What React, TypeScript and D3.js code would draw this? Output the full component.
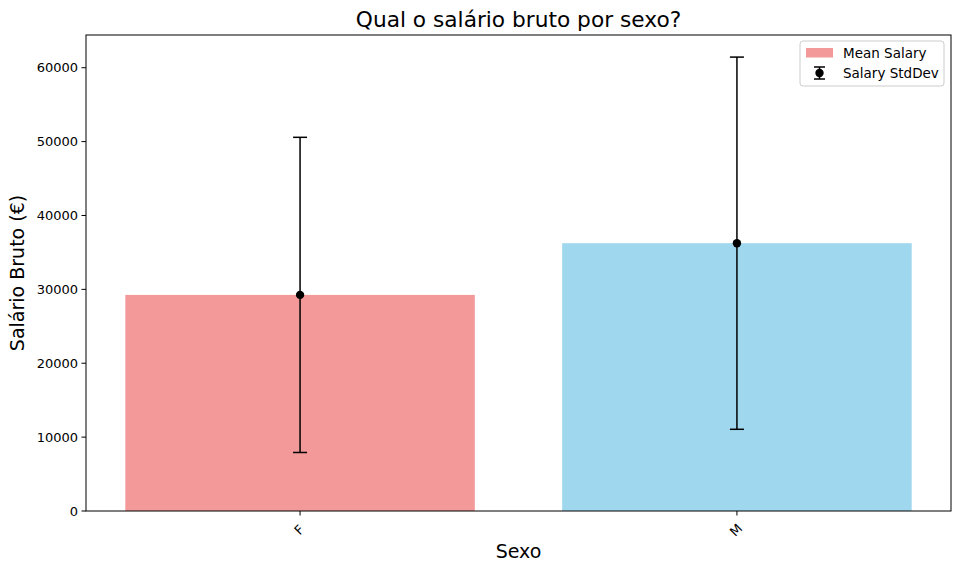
import * as d3 from "d3";

const categories = ["F", "M"];
const meanSalary = [29250, 36250];
const stdSalary = [21330, 25190];
const barColors = ["#F39999", "#9FD7EE"];
const yTicks = [0, 10000, 20000, 30000, 40000, 50000, 60000];

const width = 960;
const height = 572;
const marginTop = 35;
const marginRight = 9;
const marginBottom = 61;
const marginLeft = 86;
const font = "DejaVu Sans, sans-serif";

export default function App() {
  const x = d3
    .scaleLinear()
    .domain([-0.49, categories.length - 1 + 0.49])
    .range([marginLeft, width - marginRight]);

  const y = d3
    .scaleLinear()
    .domain([0, 64430])
    .range([height - marginBottom, marginTop]);

  const barW = x(0.8) - x(0);
  const cap = 7;

  return (
    <div style={{ position: "absolute", left: 0, top: 0 }}>
      <svg width={width} height={height} style={{ display: "block", background: "#fff" }} fontFamily={font}>
        {categories.map((c, i) => (
          <rect
            key={c}
            x={x(i) - barW / 2}
            y={y(meanSalary[i])}
            width={barW}
            height={y(0) - y(meanSalary[i])}
            fill={barColors[i]}
          />
        ))}
        <g stroke="#000" strokeWidth={1.5}>
          {categories.map((c, i) => {
            const cx = x(i);
            const top = y(meanSalary[i] + stdSalary[i]);
            const bot = y(meanSalary[i] - stdSalary[i]);
            return (
              <g key={c}>
                <line x1={cx} x2={cx} y1={top} y2={bot} />
                <line x1={cx - cap} x2={cx + cap} y1={top} y2={top} />
                <line x1={cx - cap} x2={cx + cap} y1={bot} y2={bot} />
                <circle cx={cx} cy={y(meanSalary[i])} r={4.2} fill="#000" stroke="none" />
              </g>
            );
          })}
        </g>
        <rect
          x={marginLeft}
          y={marginTop}
          width={width - marginLeft - marginRight}
          height={height - marginTop - marginBottom}
          fill="none"
          stroke="#000"
          strokeWidth={1}
        />
        {yTicks.map((t) => (
          <g key={t} transform={`translate(${marginLeft},${y(t)})`}>
            <line x1={-4.5} x2={0} stroke="#000" />
            <text x={-8} dy="0.35em" textAnchor="end" fontSize={13}>
              {t}
            </text>
          </g>
        ))}
        {categories.map((c, i) => (
          <g key={c} transform={`translate(${x(i)},${y(0)})`}>
            <line y1={0} y2={4.5} stroke="#000" />
            <text transform="translate(-1,19) rotate(-45)" textAnchor="middle" dy="0.35em" fontSize={13}>
              {c}
            </text>
          </g>
        ))}
        <text x={(marginLeft + width - marginRight) / 2} y={27} textAnchor="middle" fontSize={21.7}>
          Qual o salário bruto por sexo?
        </text>
        <text x={(marginLeft + width - marginRight) / 2} y={558} textAnchor="middle" fontSize={19}>
          Sexo
        </text>
        <text
          transform={`translate(24,${(marginTop + height - marginBottom) / 2}) rotate(-90)`}
          textAnchor="middle"
          fontSize={19}
        >
          Salário Bruto (€)
        </text>
        <g transform="translate(800,41)">
          <rect width={144} height={45} rx={3} fill="#fff" fillOpacity={0.8} stroke="#ccc" />
          <rect x={6} y={7} width={27} height={9.5} fill={barColors[0]} />
          <text x={43} y={12} dy="0.35em" fontSize={13.5}>
            Mean Salary
          </text>
          <g stroke="#000" strokeWidth={1.5}>
            <line x1={19.5} x2={19.5} y1={26} y2={38} />
            <line x1={14} x2={25} y1={26} y2={26} />
            <line x1={14} x2={25} y1={38} y2={38} />
          </g>
          <circle cx={19.5} cy={32} r={4.2} fill="#000" />
          <text x={43} y={32} dy="0.35em" fontSize={13.5}>
            Salary StdDev
          </text>
        </g>
      </svg>
    </div>
  );
}
